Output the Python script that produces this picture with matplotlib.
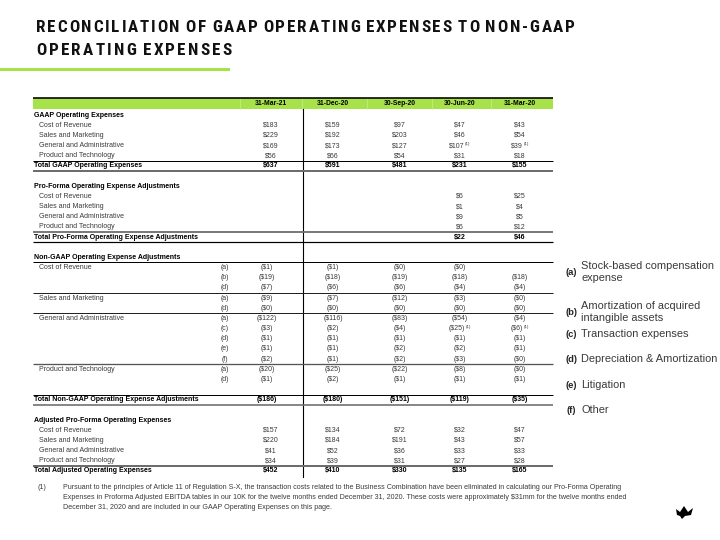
import matplotlib
matplotlib.use("Agg")
import matplotlib.pyplot as plt
from matplotlib.lines import Line2D
from matplotlib.patches import Rectangle, Polygon
from matplotlib.font_manager import FontProperties

plt.rcParams['font.family'] = ['Liberation Sans', 'DejaVu Sans']
plt.rcParams['text.parse_math'] = False

# ---- data (USD millions) ----
periods = ["31-Mar-21", "31-Dec-20", "30-Sep-20", "30-Jun-20", "31-Mar-20"]
items = ["Cost of Revenue", "Sales and Marketing",
         "General and Administrative", "Product and Technology"]

gaap_vals = [[183, 159, 97, 47, 43],
             [229, 192, 203, 46, 54],
             [169, 173, 127, 107, 39],
             [56, 66, 54, 31, 18]]
gaap_total = [637, 591, 481, 231, 155]

proforma_vals = [[None, None, None, 6, 25],
                 [None, None, None, 1, 4],
                 [None, None, None, 9, 5],
                 [None, None, None, 6, 12]]
proforma_total = [None, None, None, 22, 46]

# non-GAAP adjustments, shown as (negative) amounts
nongaap_codes = [["a", "b", "d"], ["a", "d"], ["a", "c", "d", "e", "f"], ["a", "d"]]
nongaap_vals = [
    [[1, 1, 0, 0, None], [19, 18, 19, 18, 18], [7, 6, 6, 4, 4]],
    [[9, 7, 12, 3, 0], [0, 0, 0, 0, 0]],
    [[122, 116, 83, 54, 4], [3, 2, 4, 25, 6], [1, 1, 1, 1, 1],
     [1, 1, 2, 2, 1], [2, 1, 2, 3, 0]],
    [[20, 25, 22, 8, 0], [1, 2, 1, 1, 1]],
]
nongaap_total = [186, 180, 151, 119, 35]

adjusted_vals = [[157, 134, 72, 32, 47],
                 [220, 184, 191, 43, 57],
                 [41, 52, 36, 33, 33],
                 [34, 39, 31, 27, 28]]
adjusted_total = [452, 410, 330, 135, 165]

# cells carrying footnote (1): (section, item, code, period index)
footnoted = [("gaap", 2, None, 3), ("gaap", 2, None, 4),
             ("nongaap", 2, "c", 3), ("nongaap", 2, "c", 4)]

legend_codes = ["(a)", "(b)", "(c)", "(d)", "(e)", "(f)"]
legend_text = ["Stock-based compensation\nexpense",
               "Amortization of acquired\nintangible assets",
               "Transaction expenses", "Depreciation & Amortization",
               "Litigation", "Other"]

title_lines = ["RECONCILIATION OF GAAP OPERATING EXPENSES TO NON-GAAP",
               "OPERATING EXPENSES"]
footnote = ("Pursuant to the principles of Article 11 of Regulation S-X, the transaction costs related to the Business Combination have been eliminated in calculating our Pro-Forma Operating\n"
            "Expenses in Proforma Adjusted EBITDA tables in our 10K for the twelve months ended December 31, 2020. These costs were approximately $31mm for the twelve months ended\n"
            "December 31, 2020 and are included in our GAAP Operating Expenses on this page.")

# ---- layout helpers (pixel coords, origin top-left) ----
W, H = 720, 540
GREEN = '#a7e24b'
GREY_TXT = '#3a3a3a'
fig = plt.figure(figsize=(7.2, 5.4), dpi=100)
renderer = fig.canvas.get_renderer()


def fx(x):
    return x / W


def fy(y):
    return 1 - y / H


def txt(x, y, s, **kw):
    kw.setdefault('va', 'center')
    return fig.text(fx(x), fy(y), s, **kw)


def hline(y, color='black', lw=1.0, x0=33, x1=553):
    fig.add_artist(Line2D([fx(x0), fx(x1)], [fy(y), fy(y)], color=color,
                          lw=lw * 0.72, transform=fig.transFigure,
                          solid_capstyle='butt'))


# ---- title with wide letter spacing ----
title_family = ['Roboto Condensed', 'Noto Sans Condensed', 'Liberation Sans Narrow',
                'Noto Sans', 'Liberation Sans', 'DejaVu Sans']


def char_widths(s, fp):
    ws = []
    for c in s:
        if c == ' ':
            ws.append(fp.get_size_in_points() * 0.2)
        else:
            ws.append(renderer.get_text_width_height_descent(c, fp, ismath=False)[0])
    return ws


def title_font():
    size = 13.5
    while True:
        fp = FontProperties(family=title_family, weight='heavy',
                            stretch='condensed', size=size)
        ws = char_widths(title_lines[0], fp)
        gap = (575 - 36 - sum(ws)) / (len(title_lines[0]) - 1)
        if gap >= 1.8 or size <= 9:
            return fp
        size -= 0.25


tfont = title_font()


def spaced_title(s, x0, x1, y):
    ws = char_widths(s, tfont)
    gap = (x1 - x0 - sum(ws)) / (len(s) - 1)
    x = x0
    for c, w in zip(s, ws):
        if c != ' ':
            fig.text(fx(x), fy(y), c, fontproperties=tfont, ha='left',
                     va='baseline', color='#111111')
        x += w + gap


spaced_title(title_lines[0], 36, 575, 32)
spaced_title(title_lines[1], 36, 232, 55)
fig.add_artist(Rectangle((0, fy(70.5)), fx(230), 3 / H, color=GREEN,
                         transform=fig.transFigure, lw=0))

# ---- table header ----
cx = [271, 333, 400, 460, 520]
seps = [240, 302, 367, 432, 491]
fig.add_artist(Rectangle((fx(33), fy(109)), fx(553) - fx(33), 11 / H,
                         color=GREEN, transform=fig.transFigure, lw=0))
for s in seps:
    fig.add_artist(Line2D([fx(s), fx(s)], [fy(98.5), fy(109)], color='#c9ee8c',
                          lw=0.5, transform=fig.transFigure))
hline(97.8, lw=1.6)
for x, p in zip(cx, periods):
    txt(x, 103.5, p, ha='center', fontsize=4.9, weight='bold', color='black')

# vertical divider
fig.add_artist(Line2D([fx(303), fx(303)], [fy(109), fy(477)], color='black',
                      lw=0.8, transform=fig.transFigure))

FS = 5.0
DY = 10.17


def ry(i):
    return 115 + DY * i


def money(v, neg=False):
    if v is None:
        return ""
    return f"(${v})" if neg else f"${v}"


def put_value(x, y, s, bold=False, mark=False):
    col = 'black' if bold else GREY_TXT
    if mark:
        t = txt(x - 3, y, s, ha='center', fontsize=FS, color=col,
                weight='bold' if bold else 'normal')
        x1 = t.get_window_extent(renderer).x1
        fig.text(x1 / W + 0.0005, fy(y - 1.5), "(1)", fontsize=3.2,
                 color=col, ha='left', va='center')
    else:
        txt(x, y, s, ha='center', fontsize=FS, color=col,
            weight='bold' if bold else 'normal')


def section_header(i, s):
    txt(34, ry(i), s, fontsize=FS, weight='bold', color='black')


def item_label(i, s):
    txt(39, ry(i), s, fontsize=FS, color=GREY_TXT)


# GAAP
section_header(0, "GAAP Operating Expenses")
for k, name in enumerate(items):
    item_label(1 + k, name)
    for j in range(5):
        put_value(cx[j], ry(1 + k), money(gaap_vals[k][j]),
                  mark=("gaap", k, None, j) in footnoted)
txt(34, ry(5), "Total GAAP Operating Expenses", fontsize=FS, weight='bold')
for j in range(5):
    put_value(cx[j], ry(5), money(gaap_total[j]), bold=True)
hline(ry(4) + 5, lw=1.0)
hline(ry(5) + 5, color='#6d6d6d', lw=2.0)

# Pro-forma
section_header(7, "Pro-Forma Operating Expense Adjustments")
for k, name in enumerate(items):
    item_label(8 + k, name)
    for j in range(5):
        put_value(cx[j], ry(8 + k), money(proforma_vals[k][j]))
txt(34, ry(12), "Total Pro-Forma Operating Expense Adjustments", fontsize=FS,
    weight='bold')
for j in range(5):
    put_value(cx[j], ry(12), money(proforma_total[j]), bold=True)
hline(ry(11) + 5, color='#6d6d6d', lw=1.8)
hline(ry(12) + 5, lw=1.2)

# Non-GAAP
section_header(14, "Non-GAAP Operating Expense Adjustments")
hline(ry(14) + 5, lw=1.0)
ncx = [267] + cx[1:]
i = 15
for k, name in enumerate(items):
    item_label(i, name)
    for code, vals in zip(nongaap_codes[k], nongaap_vals[k]):
        txt(225, ry(i), f"({code})", ha='center', fontsize=FS, color=GREY_TXT)
        for j in range(5):
            put_value(ncx[j], ry(i), money(vals[j], neg=True),
                      mark=("nongaap", k, code, j) in footnoted)
        i += 1
    if k < 3:
        hline(ry(i - 1) + 5, color='#222222' if k < 2 else '#555555',
              lw=1.0 if k < 2 else 1.3)
txt(34, ry(28), "Total Non-GAAP Operating Expense Adjustments", fontsize=FS,
    weight='bold')
for j in range(5):
    put_value(ncx[j], ry(28), money(nongaap_total[j], neg=True), bold=True)
hline(ry(28) - 5, lw=1.0)
hline(ry(28) + 5, color='#6d6d6d', lw=1.6)

# Adjusted
section_header(30, "Adjusted Pro-Forma Operating Expenses")
for k, name in enumerate(items):
    item_label(31 + k, name)
    for j in range(5):
        put_value(cx[j], ry(31 + k), money(adjusted_vals[k][j]))
txt(34, ry(35), "Total Adjusted Operating Expenses", fontsize=FS, weight='bold')
for j in range(5):
    put_value(cx[j], ry(35), money(adjusted_total[j]), bold=True)
hline(ry(34) + 5, color='#6d6d6d', lw=2.0)

# ---- legend of adjustment codes ----
leg_y = [272, 312, 334, 359, 385, 410]
for code, lab, y in zip(legend_codes, legend_text, leg_y):
    txt(571, y + 0.5, code, ha='center', fontsize=6.8, weight='bold', color='#222222')
    txt(581, y, lab, ha='left', fontsize=7.9, color=GREY_TXT, linespacing=1.2)

# ---- footnote ----
txt(37, 484, "(1)", ha='left', va='top', fontsize=5.1, color=GREY_TXT)
txt(63, 484, footnote, ha='left', va='top', fontsize=5.1, color=GREY_TXT,
    linespacing=1.6)

# small logo mark
logo = [(676, 509), (680, 512), (684, 506), (688, 512), (693, 508), (691, 515),
        (685, 516), (682, 519), (680, 516), (677, 515)]
fig.add_artist(Polygon([(fx(x), fy(y)) for x, y in logo], closed=True,
                       color='black', transform=fig.transFigure, lw=0))

fig.savefig("out.png", dpi=100)
